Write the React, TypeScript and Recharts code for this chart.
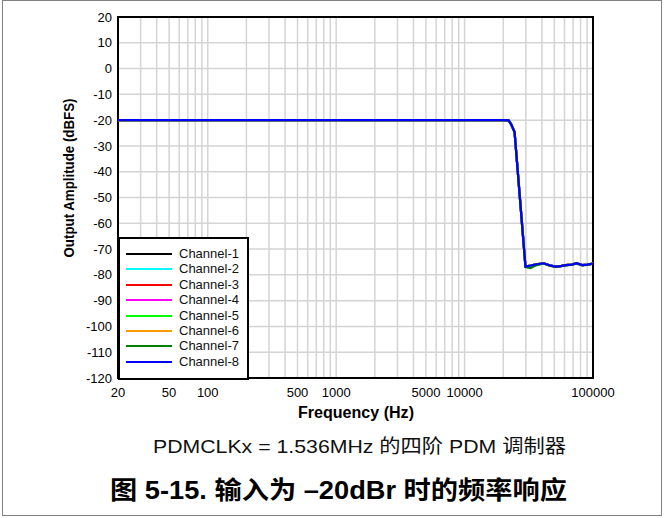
import React from 'react';
import { LineChart, Line, XAxis, YAxis, CartesianGrid, ReferenceArea } from 'recharts';

const frequencies = [20, 100, 1000, 10000, 20000, 22000, 23000, 24500, 29800, 32600, 36000, 41200, 46000, 51100, 56000, 61100, 68000, 74500, 82600, 90000, 100000];
const mainResponse = [-20, -20, -20, -20, -20, -20.1, -21.5, -24.6, -76.8, -76.4, -75.9, -75.5, -76.3, -76.8, -76.6, -76.2, -76.0, -75.5, -76.2, -76.0, -75.6];
const channel7Response = [-20, -20, -20, -20, -20, -20.1, -21.5, -24.6, -77.0, -77.4, -76.3, -75.6, -76.4, -76.9, -76.6, -76.3, -76.1, -75.7, -76.3, -76.1, -75.7];

const gridFrequencies = [20, 30, 40, 50, 60, 70, 80, 90, 100, 200, 300, 400, 500, 600, 700, 800, 900, 1000, 2000, 3000, 4000, 5000, 6000, 7000, 8000, 9000, 10000, 20000, 30000, 40000, 50000, 60000, 70000, 80000, 90000, 100000];
const labeledFrequencies = [20, 50, 100, 500, 1000, 5000, 10000, 100000];
const yTicks = [20, 10, 0, -10, -20, -30, -40, -50, -60, -70, -80, -90, -100, -110, -120];

const channelNames = ['Channel-1', 'Channel-2', 'Channel-3', 'Channel-4', 'Channel-5', 'Channel-6', 'Channel-7', 'Channel-8'];
const channelColors = ['#000000', '#00ffff', '#ff0000', '#ff00ff', '#00ff00', '#ff9900', '#008000', '#0000ff'];
const channelResponses = [mainResponse, mainResponse, mainResponse, mainResponse, mainResponse, mainResponse, channel7Response, mainResponse];

const data = frequencies.map((f, i) => {
  const row: Record<string, number> = { f };
  channelNames.forEach((name, c) => {
    row[name] = channelResponses[c][i];
  });
  return row;
});

const FONT = "'Liberation Sans', Arial, 'Noto Sans CJK SC', sans-serif";

export default function App() {
  return (
    <div style={{ position: 'absolute', left: 0, top: 0, width: 665, height: 518, background: '#fff', fontFamily: FONT }}>
      <div style={{ position: 'absolute', left: 2, top: 0, width: 658, height: 514, border: '1.5px solid #808080' }} />
      <div style={{ position: 'absolute', left: 0, top: 0 }}>
        <LineChart width={665} height={420} data={data} margin={{ top: 17, right: 72, left: 58, bottom: 12 }}>
          <CartesianGrid stroke="#d4d4d4" strokeWidth={1.5} />
          <XAxis
            dataKey="f"
            type="number"
            scale="log"
            domain={[20, 100000]}
            allowDataOverflow
            ticks={gridFrequencies}
            interval={0}
            tickFormatter={(v: number) => (labeledFrequencies.includes(v) ? String(v) : '')}
            tickLine={false}
            axisLine={false}
            tickSize={6}
            tickMargin={4}
            height={30}
            tick={{ fontSize: 13, fill: '#000', fontFamily: FONT }}
          />
          <YAxis
            type="number"
            domain={[-120, 20]}
            ticks={yTicks}
            interval={0}
            width={60}
            tickLine={false}
            axisLine={false}
            tickSize={4}
            tickMargin={2}
            tick={{ fontSize: 13, fill: '#000', fontFamily: FONT }}
          />
          {channelNames.map((name, c) => (
            <Line
              key={name}
              type="linear"
              dataKey={name}
              stroke={channelColors[c]}
              strokeWidth={2.2}
              dot={false}
              isAnimationActive={false}
            />
          ))}
          <ReferenceArea x1={20} x2={100000} y1={-120} y2={20} fill="none" fillOpacity={0} stroke="#000" strokeWidth={2} ifOverflow="extendDomain" />
        </LineChart>
      </div>
      <div
        style={{
          position: 'absolute',
          left: 118,
          top: 237,
          width: 127,
          height: 139,
          background: '#fff',
          border: '2px solid #000',
          boxSizing: 'content-box',
        }}
      >
        {channelNames.map((name, c) => (
          <div key={name} style={{ position: 'absolute', left: 0, top: 8 + c * 15.4, height: 15, width: 127 }}>
            <div style={{ position: 'absolute', left: 6, top: 6, width: 46, height: 2, background: channelColors[c] }} />
            <div style={{ position: 'absolute', left: 59, top: -1, fontSize: 13, lineHeight: '16px', color: '#111', whiteSpace: 'nowrap' }}>{name}</div>
          </div>
        ))}
      </div>
      <svg width={665} height={518} style={{ position: 'absolute', left: 0, top: 0, pointerEvents: 'none' }}>
        <text x={69} y={178} transform="rotate(-90 69 178)" textAnchor="middle" dominantBaseline="central" fontSize={14} fontWeight="bold" fontFamily={FONT} fill="#000" textLength={159} lengthAdjust="spacingAndGlyphs">
          Output Amplitude (dBFS)
        </text>
        <text x={356} y={412} textAnchor="middle" dominantBaseline="central" fontSize={16} fontWeight="bold" fontFamily={FONT} fill="#000" textLength={116} lengthAdjust="spacingAndGlyphs">
          Frequency (Hz)
        </text>
        <text x={359.5} y={453} textAnchor="middle" fontSize={19} fontFamily={FONT} fill="#111" textLength={413} lengthAdjust="spacingAndGlyphs">
          PDMCLKx = 1.536MHz 的四阶 PDM 调制器
        </text>
        <text x={338.5} y={499} textAnchor="middle" fontSize={25} fontWeight="bold" fontFamily={FONT} fill="#000" textLength={457} lengthAdjust="spacingAndGlyphs">
          图 5-15. 输入为 –20dBr 时的频率响应
        </text>
      </svg>
    </div>
  );
}
